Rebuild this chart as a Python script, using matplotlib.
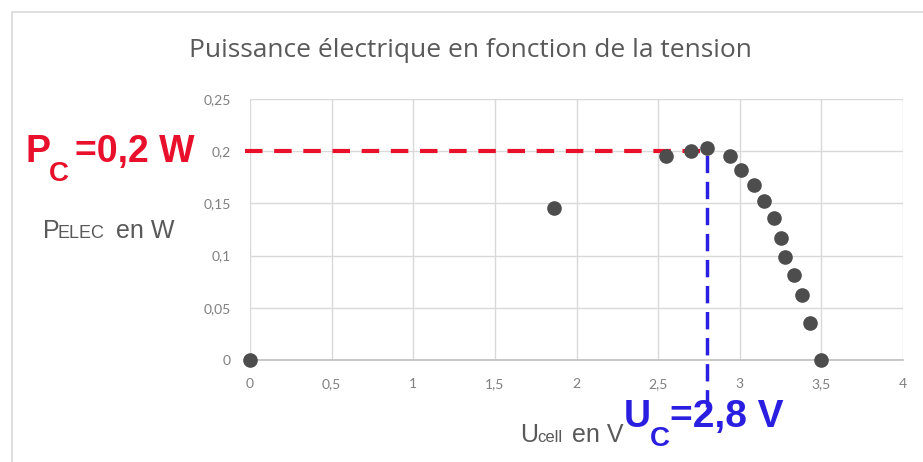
import matplotlib
matplotlib.use('Agg')
import matplotlib.pyplot as plt
from matplotlib.patches import Rectangle

# data
u_cell = [0, 1.86, 2.55, 2.70, 2.80, 2.94, 3.01, 3.09, 3.15, 3.21, 3.25, 3.28, 3.33, 3.38, 3.43, 3.50]
p_elec = [0, 0.146, 0.195, 0.200, 0.203, 0.195, 0.182, 0.168, 0.152, 0.136, 0.117, 0.099, 0.081, 0.062, 0.035, 0.0]

x_ticks = [0, 0.5, 1, 1.5, 2, 2.5, 3, 3.5, 4]
x_labels = ['0', '0,5', '1', '1,5', '2', '2,5', '3', '3,5', '4']
y_ticks = [0, 0.05, 0.1, 0.15, 0.2, 0.25]
y_labels = ['0', '0,05', '0,1', '0,15', '0,2', '0,25']

p_c = 0.2
u_c = 2.8

W, H = 923, 462
GRAY = '#595959'
RED = '#e8102a'
BLUE = '#2a1fe0'

fig = plt.figure(figsize=(W / 100, H / 100), dpi=100)
fig.patch.set_facecolor('white')


def px(x, y):
    return x / W, 1 - y / H


def label(x, y, s, size, color, bold=False):
    fig.text(*px(x, y), s, fontsize=size, color=color, family='Liberation Sans',
             weight='bold' if bold else 'normal', va='baseline', ha='left')


# light frame around the chart
fig.patches.append(Rectangle(px(12, 470), (W + 20) / W, 458 / H, transform=fig.transFigure,
                             facecolor='none', edgecolor='#d9d9d9', lw=1.2))

l, b = px(250, 360)
r, t = px(903, 99)
ax = fig.add_axes([l, b, r - l, t - b])
ax.set_xlim(0, 4)
ax.set_ylim(0, 0.25)
ax.set_xticks(x_ticks)
ax.set_xticklabels(x_labels)
ax.set_yticks(y_ticks)
ax.set_yticklabels(y_labels)
ax.tick_params(length=0, labelcolor='#7f7f7f', labelsize=10)
ax.tick_params(axis='x', pad=13)
ax.tick_params(axis='y', pad=14)
for lab in ax.get_xticklabels() + ax.get_yticklabels():
    lab.set_fontfamily('Lato')
ax.grid(True, color='#d9d9d9', lw=1)
ax.set_axisbelow(True)
for side in ['top', 'right', 'left']:
    ax.spines[side].set_visible(False)
ax.spines['bottom'].set_color('#bfbfbf')
ax.spines['bottom'].set_linewidth(1.2)

# annotation lines
ax.plot([-0.03, u_c], [p_c, p_c], color=RED, lw=3, dashes=(4.2, 2.8),
        clip_on=False, zorder=3)
ax.plot([u_c, u_c], [-0.045, p_c + 0.004], color=BLUE, lw=2.5, dashes=(5, 2.5),
        clip_on=False, zorder=4)

ax.plot(u_cell, p_elec, 'o', color='#4d4d4d', ms=9.5, zorder=5, clip_on=False)

# title
fig.text(*px(470, 57), 'Puissance électrique en fonction de la tension', ha='center',
         va='baseline', fontsize=19, color=GRAY, family='Open Sans')

# axis labels (small caps style)
label(43, 238, 'P', 18, GRAY)
label(58, 238, 'ELEC', 13, GRAY)
label(116, 238, 'en W', 18, GRAY)

label(520, 442, 'U', 18, GRAY)
label(537, 442, 'cell', 12, GRAY)
label(572, 442, 'en V', 18, GRAY)

# highlighted values
label(25, 162, 'P', 27, RED, True)
label(49, 181, 'C', 20, RED, True)
label(75, 162, '=0,2 W', 27, RED, True)

label(624, 427, 'U', 27, BLUE, True)
label(650, 446, 'C', 20, BLUE, True)
label(670, 427, '=2,8 V', 28, BLUE, True)

fig.savefig('out.png', dpi=100)
